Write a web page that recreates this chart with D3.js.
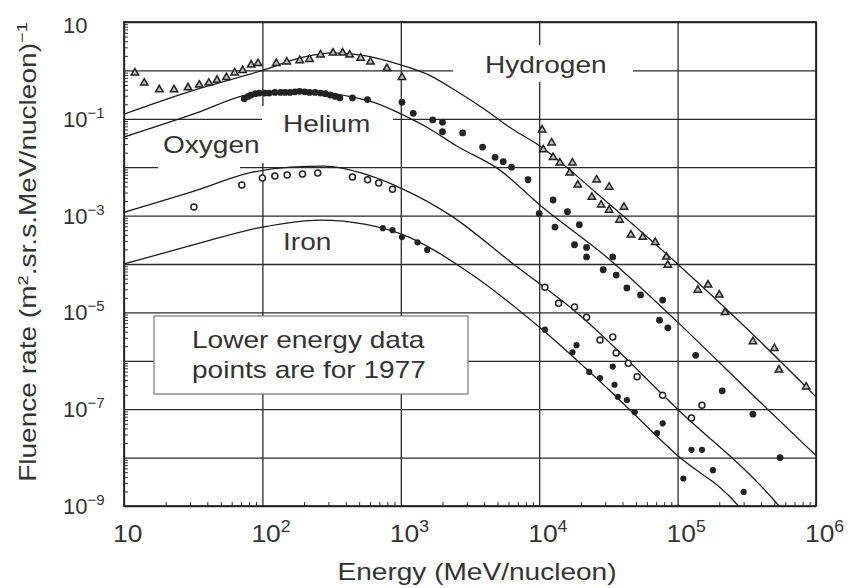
<!DOCTYPE html>
<meta charset="utf-8">
<style>
body { margin: 0; background: #fff; }
svg { display: block; }
.grid line { stroke: #2b2b2b; stroke-width: 1.3px; }
.minor line { stroke: #333; stroke-width: 1px; }
.curve { fill: none; stroke: #1c1c1c; stroke-width: 1.3px; }
text { font-family: "Liberation Sans", Arial, sans-serif; fill: #333; }
</style>
<svg width="850" height="588"></svg>
<script src="https://d3js.org/d3.v7.min.js"></script>
<script>
// axis tick labels (powers of ten)
var xTickExp = [1, 2, 3, 4, 5, 6];
var yTickExp = [1, -1, -3, -5, -7, -9];

// model curves: [energy (MeV/nucleon), fluence rate]
var hydrogenCurve = [[10, 0.125], [30, 0.37], [100, 1.0], [200, 1.9], [320, 2.3], [560, 2.0],
  [1000, 1.3], [1600, 0.8], [2500, 0.38], [4000, 0.16], [6300, 0.063], [1e4, 0.028],
  [2.5e4, 3.2e-3], [1e5, 1.0e-4], [3.2e5, 4.5e-6], [1e6, 1.8e-7]];
var heliumCurve = [[10, 0.042], [32, 0.126], [80, 0.32], [126, 0.36], [250, 0.355], [450, 0.28],
  [630, 0.22], [1000, 0.126], [1600, 0.063], [2500, 0.028], [5200, 8.7e-3], [1e4, 1.7e-3],
  [3.2e4, 1.26e-4], [1e5, 6.3e-6], [3.2e5, 2.5e-7], [1e6, 1.1e-8]];
var oxygenCurve = [[10, 1.17e-3], [32, 3.2e-3], [85, 7.9e-3], [160, 0.01], [280, 0.0105],
  [560, 7.1e-3], [1000, 3.7e-3], [2300, 1.0e-3], [6500, 1.0e-4], [1.86e4, 1.0e-5],
  [1e5, 1.0e-7], [5.4e5, 1.0e-9], [7e5, 4e-10]];
var ironCurve = [[10, 1.0e-4], [32, 2.5e-4], [100, 5.8e-4], [260, 8.1e-4], [560, 6.6e-4],
  [1000, 4.2e-4], [3200, 6.3e-5], [1e4, 5.0e-6], [3.2e4, 2.5e-7], [1e5, 1.1e-8],
  [2.75e5, 1.0e-9], [3.5e5, 4e-10]];

// measured points
var hydrogenPts = [[12, 0.89], [14, 0.55], [18, 0.40], [23, 0.40], [29, 0.44], [35, 0.50],
  [41, 0.55], [47, 0.63], [55, 0.72], [63, 0.89], [72, 1.0], [83, 1.3], [93, 1.4],
  [126, 1.4], [150, 1.5], [186, 1.6], [219, 1.7], [263, 2.1], [324, 2.3], [380, 2.3],
  [427, 2.1], [513, 1.8], [603, 1.5], [794, 1.1], [1020, 0.72],
  [1.05e4, 0.059], [1.23e4, 0.032], [1.07e4, 0.023], [1.26e4, 0.016], [1.41e4, 0.0123],
  [1.74e4, 0.0123], [1.66e4, 7.6e-3], [1.9e4, 4.3e-3], [2.6e4, 5.5e-3], [3.2e4, 3.9e-3],
  [2.4e4, 2.4e-3], [2.8e4, 1.66e-3], [3.2e4, 1.3e-3], [4.1e4, 1.5e-3], [3.8e4, 8.1e-4],
  [4.6e4, 4.0e-4], [5.6e4, 3.6e-4], [6.9e4, 2.8e-4], [8.3e4, 1.4e-4], [8.5e4, 9.5e-5],
  [1.4e5, 2.9e-5], [1.66e5, 3.7e-5], [2.0e5, 2.3e-5], [2.2e5, 1.0e-5], [3.5e5, 2.5e-6],
  [5.0e5, 1.8e-6], [5.4e5, 6.5e-7], [8.5e5, 2.9e-7]];
var heliumPts = [[74, 0.26], [79, 0.29], [83, 0.31], [89, 0.33], [95, 0.34], [104, 0.34],
  [112, 0.34], [123, 0.35], [135, 0.35], [146, 0.35], [158, 0.35], [172, 0.36], [186, 0.37],
  [202, 0.36], [219, 0.35], [240, 0.35], [263, 0.34], [285, 0.33], [309, 0.31], [335, 0.29],
  [363, 0.27], [447, 0.27], [575, 0.25], [1020, 0.22],
  [1230, 0.13], [1700, 0.095], [2000, 0.085], [2000, 0.054], [2800, 0.051], [3900, 0.026],
  [4800, 0.016], [5500, 0.013], [6300, 0.010], [8300, 5.5e-3], [1.26e4, 2.1e-3],
  [1.6e4, 1.2e-3], [1.0e4, 1.1e-3], [1.3e4, 5.8e-4], [1.95e4, 6.5e-4], [1.8e4, 2.5e-4],
  [2.2e4, 2.2e-4], [2.2e4, 1.4e-4], [3.4e4, 1.4e-4], [2.9e4, 7.6e-5], [3.6e4, 5.9e-5],
  [4.3e4, 3.2e-5], [5.4e4, 2.3e-5], [7.8e4, 1.8e-5], [7.4e4, 6.9e-6], [8.5e4, 4.8e-6],
  [1.35e5, 1.3e-6], [2.1e5, 2.4e-7], [3.5e5, 7.9e-8], [5.5e5, 1.0e-8]];
var oxygenPts = [[32, 1.5e-3], [71, 4.3e-3], [100, 6.0e-3], [123, 6.6e-3], [151, 6.9e-3],
  [195, 7.2e-3], [251, 7.6e-3], [447, 6.3e-3], [575, 5.5e-3], [692, 4.7e-3], [871, 3.5e-3],
  [1.1e4, 3.3e-5], [1.38e4, 1.55e-5], [1.8e4, 1.3e-5], [2.2e4, 7.9e-6], [2.75e4, 2.7e-6],
  [3.4e4, 3.1e-6], [3.6e4, 1.45e-6], [4.4e4, 8.9e-7], [5.1e4, 4.7e-7], [7.8e4, 1.95e-7],
  [1.26e5, 6.6e-8], [1.5e5, 1.2e-7]];
var ironPts = [[741, 5.5e-4], [871, 5.0e-4], [1020, 3.6e-4], [1320, 2.8e-4], [1550, 1.95e-4],
  [1.1e4, 4.4e-6], [1.86e4, 2.1e-6], [1.74e4, 1.5e-6], [2.3e4, 5.9e-7], [2.75e4, 4.4e-7],
  [3.4e4, 7.6e-7], [3.5e4, 3.2e-7], [3.7e4, 1.8e-7], [4.3e4, 1.55e-7], [4.9e4, 8.7e-8],
  [7.8e4, 5.1e-8], [7.1e4, 3.2e-8], [1.1e5, 3.7e-9], [1.26e5, 1.45e-8], [1.5e5, 1.45e-8],
  [1.8e5, 5.5e-9], [3.0e5, 1.95e-9]];

var svg = d3.select("svg");
var plotL = 124, plotR = 816, plotT = 22, plotB = 506;

var x = d3.scaleLog().domain([10, 1e6]).range([plotL, plotR]);
var y = d3.scaleLog().domain([1e-9, 10]).range([plotB, plotT]);

var xMajor = d3.range(1, 7).map(function(e) { return Math.pow(10, e); });
var yMajor = d3.range(-9, 2).map(function(e) { return Math.pow(10, e); });
var xMinor = [], yMinor = [];
d3.range(1, 6).forEach(function(e) {
  for (var m = 2; m < 10; m++) xMinor.push(m * Math.pow(10, e));
});
d3.range(-9, 1).forEach(function(e) {
  for (var m = 2; m < 10; m++) yMinor.push(m * Math.pow(10, e));
});

// grid lines
svg.append("g").attr("class", "grid")
    .attr("transform", "translate(" + plotL + ",0)")
    .call(d3.axisLeft(y).tickValues(yMajor).tickSize(-(plotR - plotL)).tickFormat(""))
    .call(function(g) { g.select(".domain").remove(); });
svg.append("g").attr("class", "grid")
    .attr("transform", "translate(0," + plotB + ")")
    .call(d3.axisBottom(x).tickValues(xMajor).tickSize(-(plotB - plotT)).tickFormat(""))
    .call(function(g) { g.select(".domain").remove(); });

// minor ticks on the inside of left and bottom edges
svg.append("g").attr("class", "minor")
    .attr("transform", "translate(" + plotL + ",0)")
    .call(d3.axisLeft(y).tickValues(yMinor).tickSize(-4).tickFormat(""))
    .call(function(g) { g.select(".domain").remove(); });
svg.append("g").attr("class", "minor")
    .attr("transform", "translate(0," + plotB + ")")
    .call(d3.axisBottom(x).tickValues(xMinor).tickSize(-4).tickFormat(""))
    .call(function(g) { g.select(".domain").remove(); });

// frame
svg.append("rect")
    .attr("x", plotL).attr("y", plotT)
    .attr("width", plotR - plotL).attr("height", plotB - plotT)
    .attr("fill", "none").attr("stroke", "#222").attr("stroke-width", 1.7);

// white patches behind the in-plot labels
var knock = [[453, 45, 180, 37], [262, 106, 131, 57], [158, 128, 82, 42]];
svg.selectAll(".knock").data(knock).enter().append("rect")
    .attr("x", function(d) { return d[0]; }).attr("y", function(d) { return d[1]; })
    .attr("width", function(d) { return d[2]; }).attr("height", function(d) { return d[3]; })
    .attr("fill", "#fff");

// legend box
svg.append("rect")
    .attr("x", 154).attr("y", 316).attr("width", 314).attr("height", 78)
    .attr("fill", "#fff").attr("stroke", "#777").attr("stroke-width", 1.2);

svg.append("clipPath").attr("id", "plot")
  .append("rect").attr("x", plotL).attr("y", plotT)
    .attr("width", plotR - plotL).attr("height", plotB - plotT);

var line = d3.line()
    .x(function(d) { return x(d[0]); })
    .y(function(d) { return y(d[1]); })
    .curve(d3.curveMonotoneX);

var curves = svg.append("g").attr("clip-path", "url(#plot)");
[hydrogenCurve, heliumCurve, oxygenCurve, ironCurve].forEach(function(c) {
  curves.append("path").attr("class", "curve").attr("d", line(c));
});

var pts = svg.append("g").attr("clip-path", "url(#plot)");
pts.selectAll(".he").data(heliumPts).enter().append("circle")
    .attr("cx", function(d) { return x(d[0]); }).attr("cy", function(d) { return y(d[1]); })
    .attr("r", 3.4).attr("fill", "#222");
pts.selectAll(".fe").data(ironPts).enter().append("circle")
    .attr("cx", function(d) { return x(d[0]); }).attr("cy", function(d) { return y(d[1]); })
    .attr("r", 3.1).attr("fill", "#222");
pts.selectAll(".ox").data(oxygenPts).enter().append("circle")
    .attr("cx", function(d) { return x(d[0]); }).attr("cy", function(d) { return y(d[1]); })
    .attr("r", 3).attr("fill", "#fff").attr("stroke", "#222").attr("stroke-width", 1.5);
var tri = d3.symbol().type(d3.symbolTriangle).size(24);
pts.selectAll(".h").data(hydrogenPts).enter().append("path")
    .attr("d", tri)
    .attr("transform", function(d) { return "translate(" + x(d[0]) + "," + y(d[1]) + ")"; })
    .attr("fill", "#bbb").attr("stroke", "#222").attr("stroke-width", 1.5);

// text helper with horizontal stretch
function label(px, py, str, size, sx, anchor) {
  return svg.append("text")
      .attr("transform", "translate(" + px + "," + py + ") scale(" + sx + ",1)")
      .attr("font-size", size)
      .attr("text-anchor", anchor || "start")
      .text(str);
}

// y tick labels
yTickExp.forEach(function(e) {
  var t = svg.append("text")
      .attr("x", 63).attr("y", y(Math.pow(10, e)) + (e === 1 ? 11 : 8))
      .attr("font-size", 22).text("10");
  if (e !== 1) {
    t.append("tspan").attr("dy", -9).attr("font-size", 15)
        .text((e < 0 ? "\u2212" : "") + Math.abs(e));
  }
});

// x tick labels
xTickExp.forEach(function(e) {
  var t = svg.append("text")
      .attr("transform", "translate(" + (x(Math.pow(10, e)) - 11) + ",542) scale(1.1,1)")
      .attr("font-size", 24).text("10");
  if (e !== 1) {
    t.append("tspan").attr("dy", -10).attr("font-size", 16).text(e);
  }
});

// axis titles
label(477, 580, "Energy (MeV/nucleon)", 23, 1.22, "middle");
var yt = svg.append("text")
    .attr("transform", "translate(36,252) rotate(-90) scale(1.22,1)")
    .attr("font-size", 23).attr("text-anchor", "middle");
yt.append("tspan").text("Fluence rate (m");
yt.append("tspan").attr("dy", -8).attr("font-size", 15).text("2");
yt.append("tspan").attr("dy", 8).text(".sr.s.MeV/nucleon)");
yt.append("tspan").attr("dy", -9).attr("font-size", 15).text("\u22121");

// curve names
label(485, 73, "Hydrogen", 23, 1.22);
label(283, 132, "Helium", 23, 1.22);
label(163, 153, "Oxygen", 23, 1.22);
label(283, 250, "Iron", 23, 1.22);

// legend note
label(192, 348, "Lower energy data", 23, 1.22);
label(192, 378, "points are for 1977", 23, 1.22);
</script>
